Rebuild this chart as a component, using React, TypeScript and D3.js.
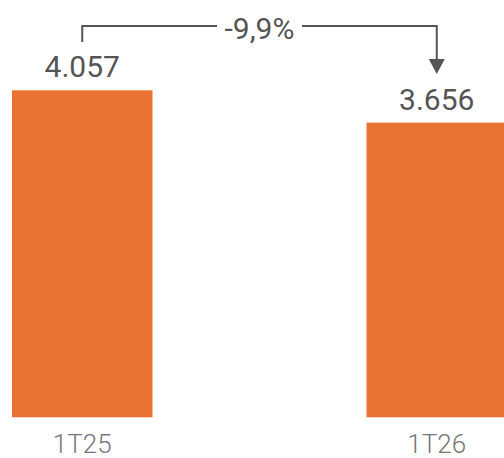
import React from "react";
import * as d3 from "d3";

const categories = ["1T25", "1T26"];
const values = [4057, 3656];
const valueLabels = ["4.057", "3.656"];
const changeLabel = "-9,9%";

const W = 504;
const H = 458;

export default function App() {
  const x = d3.scaleBand<string>().domain(categories).range([12, 507]).paddingInner(0.6037).paddingOuter(0);
  const baseline = 417.3;
  const y = d3.scaleLinear().domain([0, 4057]).range([baseline, 90.3]);
  const bw = x.bandwidth();
  const cx = (c: string) => (x(c) as number) + bw / 2;
  const gray = "#555555";
  const x0 = cx(categories[0]);
  const x1 = cx(categories[1]);
  const bracketY = 26;
  const textCx = 259.5;
  const gapL = 217;
  const gapR = 302;
  const tipY = 74;
  return (
    <svg width={W} height={H} style={{ position: "absolute", left: 0, top: 0, display: "block" }}>
      {categories.map((c, i) => (
        <g key={c}>
          <rect x={x(c)} y={y(values[i])} width={bw} height={baseline - y(values[i])} fill="#E97334" />
          <text x={cx(c)} y={y(values[i]) - 13} textAnchor="middle" fontFamily="Roboto" fontSize={30} fill={gray}>
            {valueLabels[i]}
          </text>
          <text x={cx(c)} y={453} textAnchor="middle" fontFamily="Roboto" fontWeight={300} fontSize={26} fill="#777777">
            {c}
          </text>
        </g>
      ))}
      <path
        d={`M${x0},42 V${bracketY} H${gapL} M${gapR},${bracketY} H${x1} V${tipY - 12}`}
        fill="none"
        stroke={gray}
        strokeWidth={2}
      />
      <path d={`M${x1 - 8},${tipY - 15} L${x1 + 8},${tipY - 15} L${x1},${tipY} Z`} fill={gray} />
      <text x={textCx} y={39} textAnchor="middle" fontFamily="Roboto" fontSize={30} fill={gray}>
        {changeLabel}
      </text>
    </svg>
  );
}
